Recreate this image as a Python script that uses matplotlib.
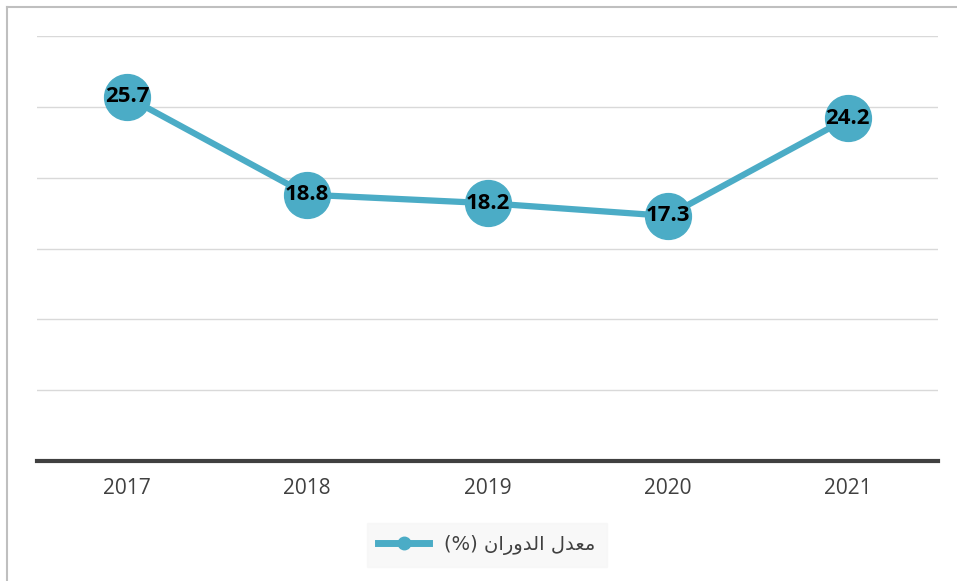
import matplotlib.pyplot as plt
from matplotlib.lines import Line2D

# Turnover rate by year
years = ["2017", "2018", "2019", "2020", "2021"]
turnover = [25.7, 18.8, 18.2, 17.3, 24.2]

# "معدل الدوران (%)" written in visual order with Arabic presentation forms
legend_label = "(%) \uFEE5\uFE8D\uFEAD\uFEED\uFEAA\uFEDF\uFE8D \uFEDD\uFEAA\uFECC\uFEE3"

line_color = "#4BACC6"
text_color = "#404040"

fig = plt.figure(figsize=(9.57, 5.81), dpi=100)
ax = fig.add_axes([37 / 957, 1 - 461 / 581, (938 - 37) / 957, (461 - 36) / 581])

x = list(range(len(years)))
ax.plot(x, turnover, color=line_color, linewidth=4.5, marker="o",
        markersize=33, markerfacecolor=line_color, markeredgecolor=line_color,
        zorder=3)

for xi, v in zip(x, turnover):
    ax.text(xi, v, f"{v:.1f}", ha="center", va="center", fontsize=16,
            fontweight="bold", family="Open Sans", color="black", zorder=4)

ax.set_xlim(-0.5, len(years) - 0.5)
ax.set_ylim(0, 30)
ax.set_yticks([0, 5, 10, 15, 20, 25, 30])
ax.set_yticklabels([])
ax.tick_params(axis="y", length=0)
ax.set_xticks(x)
ax.set_xticklabels(years, fontsize=15, family="Open Sans", color=text_color)
ax.tick_params(axis="x", length=0, pad=12)

ax.grid(axis="y", color="#d9d9d9", linewidth=1)
ax.set_axisbelow(True)
for side in ["top", "right", "left"]:
    ax.spines[side].set_visible(False)
ax.spines["bottom"].set_color(text_color)
ax.spines["bottom"].set_linewidth(3)
ax.spines["bottom"].set_zorder(2)

# Legend
handle = Line2D([], [], color=line_color, linewidth=5, marker="o",
                markersize=9, markerfacecolor=line_color)
leg = fig.legend([handle], [legend_label], loc="center",
                 bbox_to_anchor=(487 / 957, 1 - 545 / 581),
                 frameon=True, facecolor="#f7f7f7", edgecolor="#f7f7f7",
                 fancybox=False, handlelength=2.6, borderpad=0.6,
                 prop={"family": "DejaVu Sans", "size": 14})
for t in leg.get_texts():
    t.set_color(text_color)

# Outer frame (top and left edges visible)
fig.add_artist(Line2D([7 / 957, 1], [1 - 7 / 581] * 2, color="#bfbfbf",
                      linewidth=1.5, transform=fig.transFigure))
fig.add_artist(Line2D([7 / 957] * 2, [0, 1 - 7 / 581], color="#bfbfbf",
                      linewidth=1.5, transform=fig.transFigure))

fig.savefig("out.png", dpi=100)
